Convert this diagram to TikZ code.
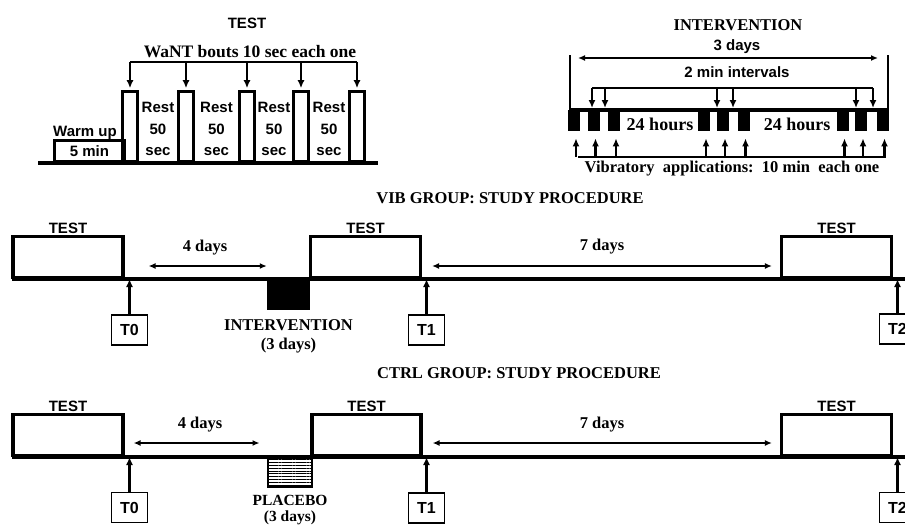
\documentclass[tikz,border=0pt]{standalone}
\usepackage{fontspec}
\setmainfont{Liberation Serif}
\newfontfamily\arialfont{Liberation Sans}
\usetikzlibrary{positioning,arrows.meta,calc,patterns.meta}
\tikzset{
  sanslabel/.style={font=\arialfont\bfseries\fontsize{15}{21.5}\selectfont, inner sep=1pt, align=center},
  seriflabel/.style={font=\bfseries\fontsize{16.5}{19}\selectfont, inner sep=1pt, align=center},
  timeline/.style={line width=3.5pt},
  flowarrow/.style={-{Latex[length=8pt,width=7pt]}, line width=2.2pt},
  spanarrow/.style={{Latex[length=7pt,width=6pt]}-{Latex[length=7pt,width=6pt]}, line width=1.9pt},
  testbox/.style={draw, line width=3.2pt, minimum width=110pt, minimum height=41pt, inner sep=0pt, anchor=south},
  boutbar/.style={draw, line width=2.8pt, minimum width=15pt, minimum height=70pt, inner sep=0pt, anchor=south},
  vibblock/.style={fill=black, minimum width=12pt, minimum height=21pt, inner sep=0pt, anchor=north},
  timebox/.style={draw, line width=1.3pt, minimum width=36pt, minimum height=30pt, inner sep=0pt, font=\arialfont\bfseries\fontsize{16}{18}\selectfont}
}

\begin{document}
\begin{tikzpicture}[x=1pt, y=-1pt]
  \useasboundingbox (0,0) rectangle (905,527);

  % test protocol
  \node[sanslabel] (testtitle) at (247,23) {TEST};
  \node[seriflabel, font=\bfseries\fontsize{17.5}{19}\selectfont] (want) at (250,52) {WaNT bouts 10 sec each one};
  \coordinate (wantbar) at (0,62);
  \draw[timeline] (38,163) -- (378,163);
  \node[draw, line width=2.8pt, minimum width=70pt, minimum height=21pt, inner sep=0pt, anchor=south west, sanslabel] (warmup) at (53,163) {5 min};
  \node[sanslabel] (warmtext) at (85,133) {Warm up};
  \foreach \n/\x in {1/130,2/186,3/247,4/301,5/357}
    \node[boutbar] (bout\n) at (\x,163) {};
  \draw[line width=2.2pt] (bout1.north |- wantbar) -- (bout5.north |- wantbar);
  \foreach \n in {1,...,5}
    \draw[flowarrow, shorten >=2pt] (bout\n.north |- wantbar) -- (bout\n.north);
  \foreach \a/\b in {1/2,2/3,3/4,4/5}
    \node[sanslabel, yshift=-2.5pt] (rest\a) at ($(bout\a.center)!0.5!(bout\b.center)$) {Rest\\50\\sec};

  % intervention scheme
  \node[seriflabel] (intertitle) at (738,25) {INTERVENTION};
  \node[sanslabel] (threedays) at (737,47) {3 days};
  \node[sanslabel] (twomin) at (737,72) {2 min intervals};
  \coordinate (dayleft) at (570,110);
  \coordinate (dayright) at (888,110);
  \coordinate (twobar) at (0,88);
  \coordinate (vibbar) at (0,157);
  \draw[line width=2pt] (dayleft) -- ++(0,-55);
  \draw[line width=2pt] (dayright) -- ++(0,-55);
  \draw[spanarrow] ([xshift=8pt]dayleft |- 0,58) -- ([xshift=-10pt]dayright |- 0,58);
  \draw[timeline] (dayleft) -- (dayright);
  \foreach \n/\x in {1/574,2/593.5,3/614,4/704,5/723,6/743.5,7/842.5,8/861,9/882.5}
    \node[vibblock] (vb\n) at (\x,110) {};
  \foreach \n/\x in {1/592,2/605,3/717,4/733,5/856,6/873}
    \coordinate (gap\n) at (\x,110);
  \draw[line width=2.2pt] (gap1 |- twobar) -- (gap6 |- twobar);
  \foreach \n in {1,...,6}
    \draw[flowarrow, shorten >=2pt] (gap\n |- twobar) -- (gap\n);
  \node[seriflabel, font=\bfseries\fontsize{18}{20}\selectfont] (hours1) at (660,124) {24 hours};
  \node[seriflabel, font=\bfseries\fontsize{18}{20}\selectfont] (hours2) at (797,124) {24 hours};
  \draw[line width=2.5pt] ([xshift=4pt]vb1.south |- vibbar) -- ([xshift=3pt]vb9.south |- vibbar);
  \foreach \n in {1,...,9}
    \draw[flowarrow, shorten >=7pt] ([xshift=2pt]vb\n.south |- vibbar) -- ([xshift=2pt]vb\n.south);
  \node[seriflabel] (vibapp) at (732,169) {Vibratory\ \ applications:\ \ 10 min\ \ each one};

  % VIB group
  \node[seriflabel] (vibtitle) at (510,198) {VIB GROUP: STUDY PROCEDURE};
  \draw[timeline] (12,279) -- (910,279);
  \node[testbox, label={[sanslabel]above:TEST}] (vibtest0) at (68,279) {};
  \node[testbox, label={[sanslabel]above:TEST}] (vibtest1) at (365.5,279) {};
  \node[testbox, label={[sanslabel]above:TEST}] (vibtest2) at (836.5,279) {};
  \node[fill=black, minimum width=43pt, minimum height=31pt, inner sep=0pt, anchor=north] (vibint) at (288.5,279) {};
  \node[seriflabel, below=8pt of vibint] (vibinttext) {INTERVENTION\\(3 days)};
  \node[timebox] (vibt0) at (129.5,330) {T0};
  \node[timebox] (vibt1) at (426.5,330) {T1};
  \node[timebox] (vibt2) at (897.5,329) {T2};
  \draw[flowarrow] (vibt0) -- (vibt0 |- vibtest0.south);
  \draw[flowarrow] (vibt1) -- (vibt1 |- vibtest1.south);
  \draw[flowarrow] (vibt2) -- (vibt2 |- vibtest2.south);
  \coordinate (vibspan) at (0,266);
  \draw[spanarrow] ([xshift=24pt]vibtest0.east |- vibspan) -- (vibint.west |- vibspan);
  \draw[spanarrow] ([xshift=10pt]vibtest1.east |- vibspan) -- ([xshift=-8pt]vibtest2.west |- vibspan);
  \node[seriflabel] (vibfour) at (205,248) {4 days};
  \node[seriflabel] (vibseven) at (602,247) {7 days};

  % CTRL group
  \node[seriflabel] (ctrltitle) at (519,373) {CTRL GROUP: STUDY PROCEDURE};
  \draw[timeline] (12,457) -- (910,457);
  \node[testbox, label={[sanslabel]above:TEST}] (ctrltest0) at (68,457) {};
  \node[testbox, minimum width=109pt, label={[sanslabel]above:TEST}] (ctrltest1) at (366.5,457) {};
  \node[testbox, label={[sanslabel]above:TEST}] (ctrltest2) at (836.5,457) {};
  \node[draw, line width=2.8pt, pattern={Lines[angle=0,distance=2.8pt,line width=0.9pt]}, minimum width=44pt, minimum height=29pt, inner sep=0pt, anchor=north] (ctrlplacebo) at (290,457) {};
  \node[seriflabel, below=7pt of ctrlplacebo, font=\bfseries\fontsize{15.5}{16}\selectfont] (ctrlplacetext) {PLACEBO\\(3 days)};
  \node[timebox] (ctrlt0) at (129.5,507.5) {T0};
  \node[timebox] (ctrlt1) at (426.5,508) {T1};
  \node[timebox] (ctrlt2) at (897.5,507.5) {T2};
  \draw[flowarrow] (ctrlt0) -- (ctrlt0 |- ctrltest0.south);
  \draw[flowarrow] (ctrlt1) -- (ctrlt1 |- ctrltest1.south);
  \draw[flowarrow] (ctrlt2) -- (ctrlt2 |- ctrltest2.south);
  \coordinate (ctrlspan) at (0,443);
  \draw[spanarrow] ([xshift=9pt]ctrltest0.east |- ctrlspan) -- ([xshift=-8pt]ctrlplacebo.west |- ctrlspan);
  \draw[spanarrow] ([xshift=10pt]ctrltest1.east |- ctrlspan) -- ([xshift=-8pt]ctrltest2.west |- ctrlspan);
  \node[seriflabel] (ctrlfour) at (200,425) {4 days};
  \node[seriflabel] (ctrlseven) at (602,425) {7 days};
\end{tikzpicture}
\end{document}
